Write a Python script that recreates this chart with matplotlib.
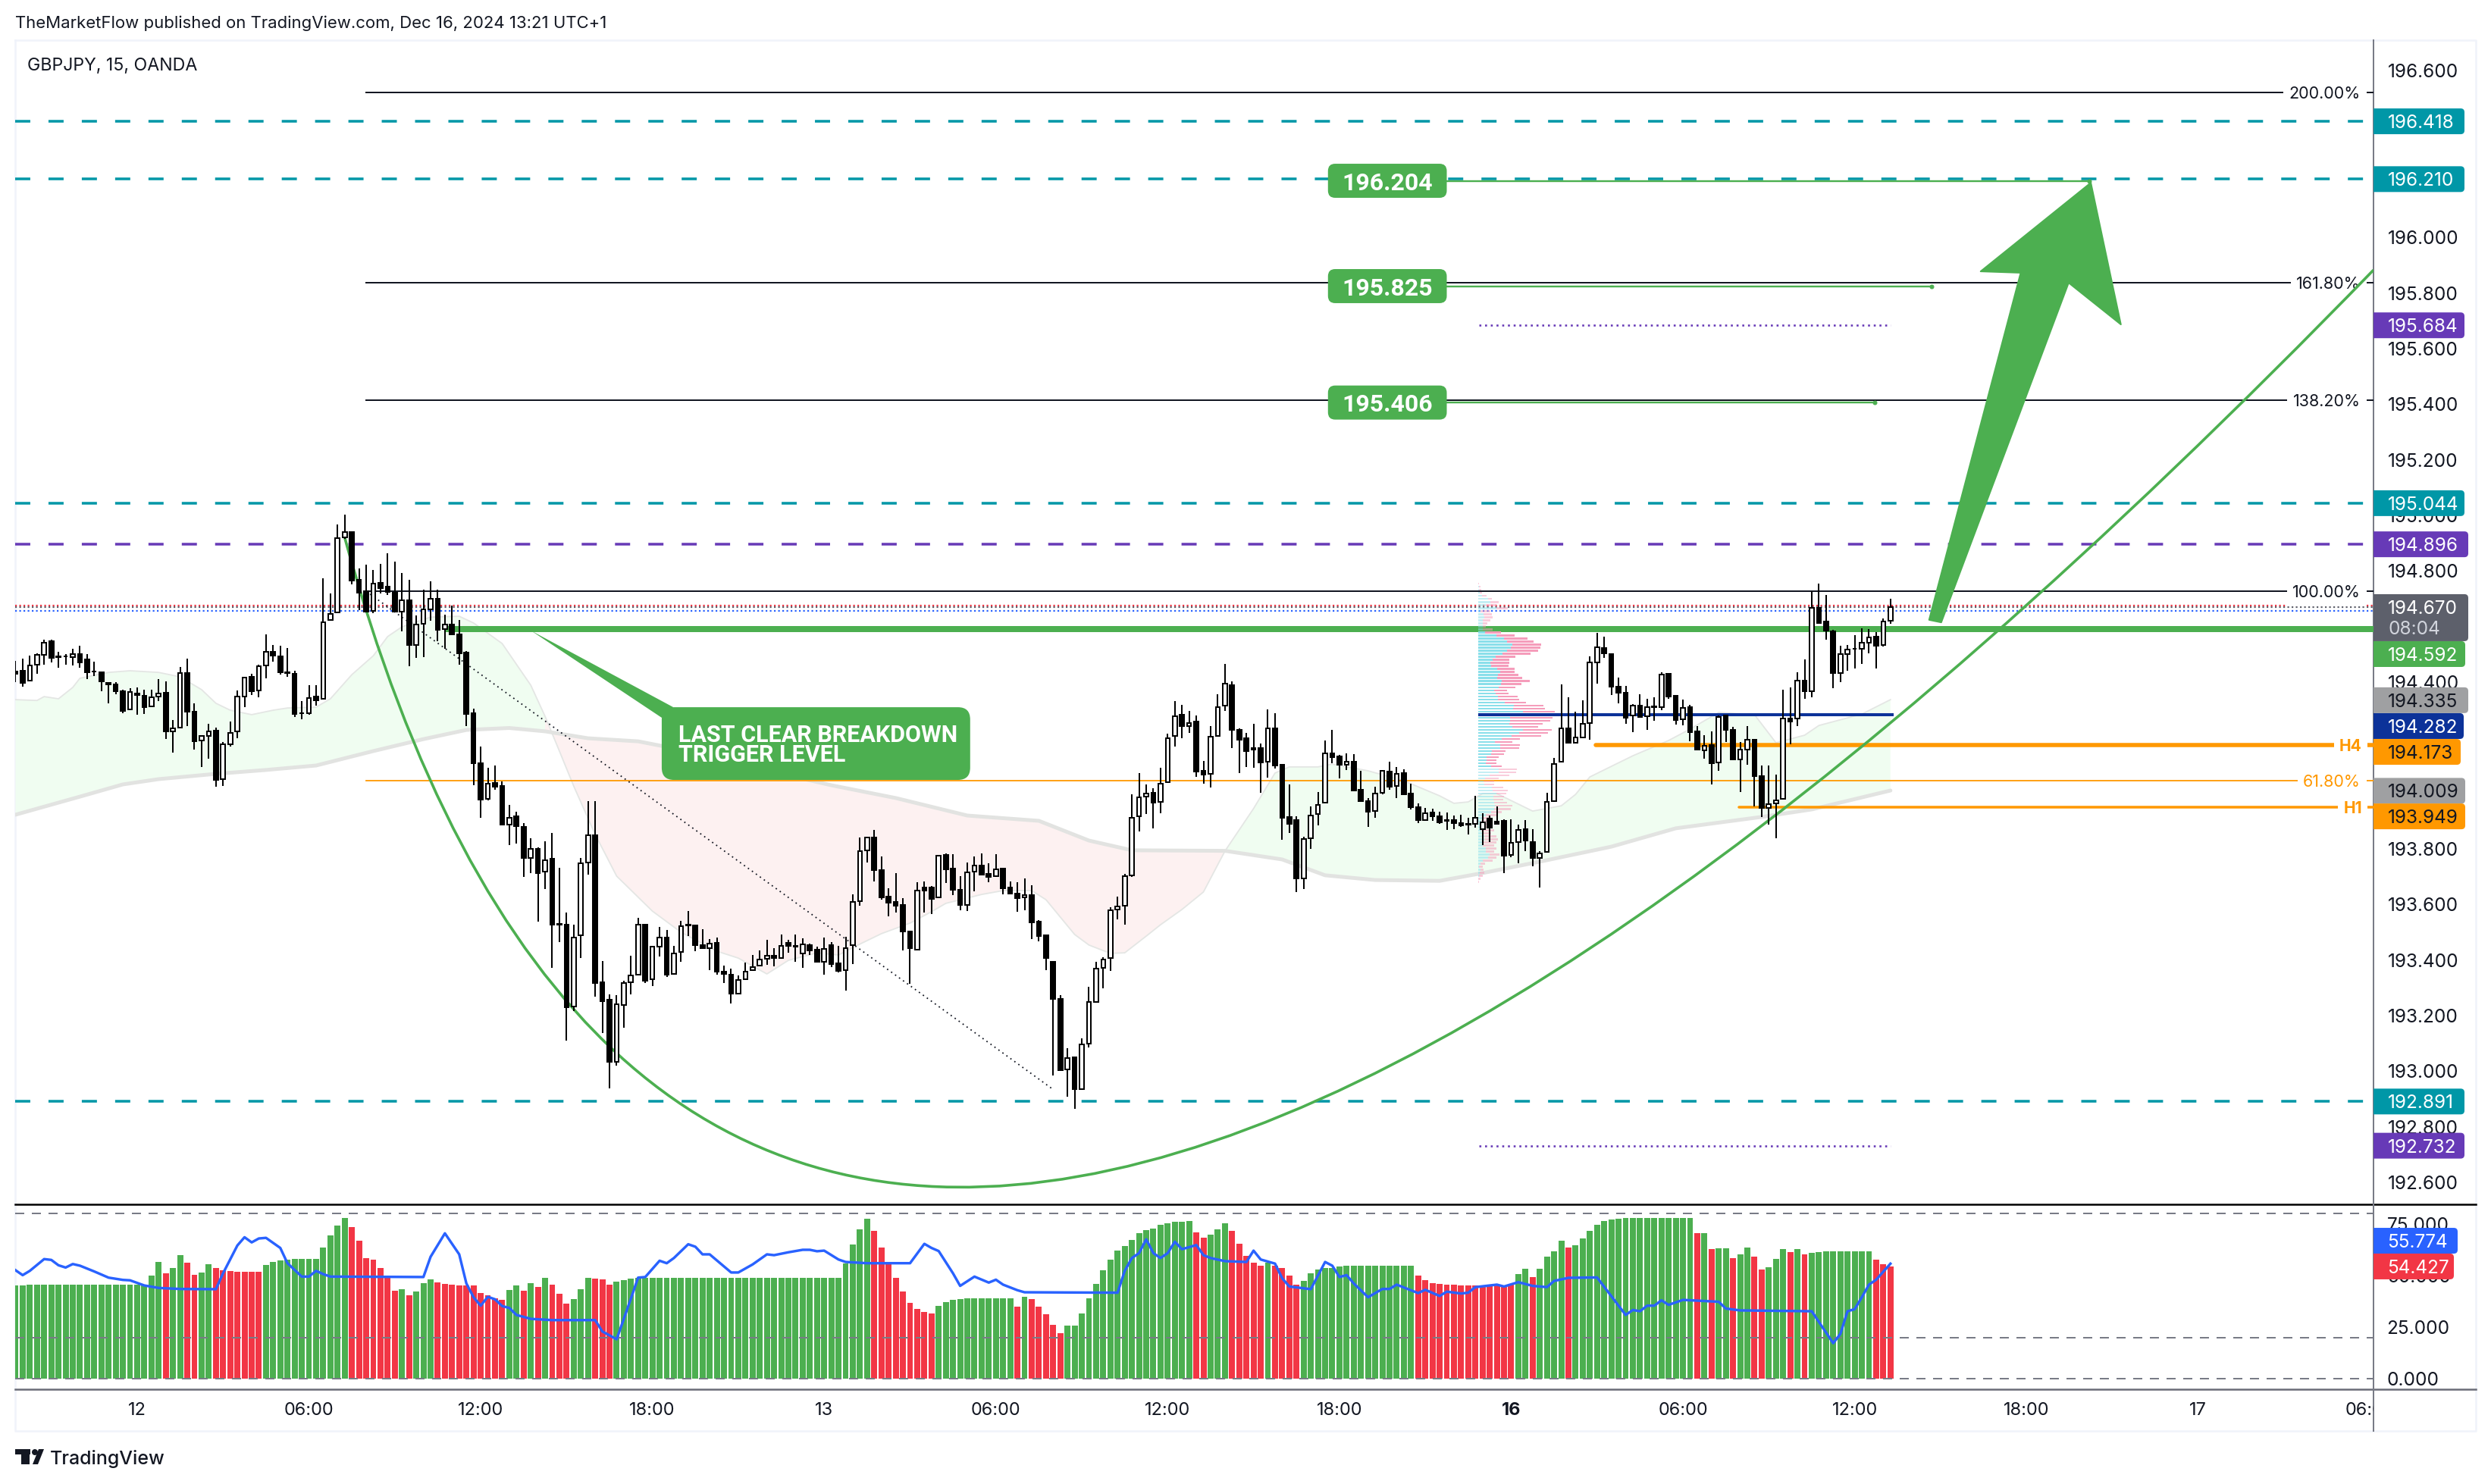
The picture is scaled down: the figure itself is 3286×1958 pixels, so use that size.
import numpy as np
import matplotlib
matplotlib.use('Agg')
import matplotlib.pyplot as plt
from matplotlib.patches import FancyBboxPatch, PathPatch, Polygon, Rectangle, Circle
from matplotlib.path import Path

plt.rcParams['font.family'] = ['Inter', 'DejaVu Sans']

# ── Candles (15 min bars, oldest first) ───────────────────────────────────────
highs = [
    194.477,194.484,194.495,194.505,194.553,194.553,194.509,194.502,194.520,194.531,
    194.501,194.475,194.435,194.400,194.400,194.373,194.377,194.380,194.373,194.373,
    194.411,194.403,194.265,194.455,194.484,194.325,194.206,194.249,194.236,194.184,
    194.258,194.370,194.418,194.429,194.462,194.571,194.534,194.530,194.523,194.440,
    194.332,194.389,194.389,194.773,194.718,194.966,195.003,194.940,194.809,194.822,
    194.803,194.825,194.865,194.835,194.793,194.768,194.641,194.732,194.763,194.732,
    194.643,194.676,194.624,194.512,194.305,194.169,194.092,194.100,194.043,193.958,
    193.934,193.894,193.838,193.805,193.828,193.858,193.731,193.570,193.526,193.767,
    193.973,193.973,193.397,193.276,193.273,193.326,193.416,193.551,193.530,193.447,
    193.519,193.507,193.451,193.541,193.577,193.524,193.510,193.475,193.482,193.380,
    193.370,193.345,193.391,193.417,193.435,193.472,193.442,193.491,193.474,193.491,
    193.477,193.459,193.447,193.480,193.464,193.450,193.484,193.636,193.841,193.843,
    193.868,193.774,193.657,193.712,193.624,193.503,193.680,193.684,193.666,193.777,
    193.785,193.781,193.702,193.750,193.773,193.784,193.748,193.781,193.731,193.682,
    193.680,193.694,193.668,193.545,193.488,193.393,193.273,193.084,193.054,193.118,
    193.303,193.395,193.411,193.589,193.627,193.711,193.996,194.072,194.033,194.018,
    194.091,194.214,194.331,194.318,194.296,194.280,194.116,194.241,194.356,194.465,
    194.403,194.234,194.217,194.250,194.179,194.302,194.288,194.102,194.032,193.916,
    193.843,193.953,194.004,194.189,194.227,194.138,194.145,194.141,194.080,193.984,
    194.025,194.085,194.113,194.094,194.086,194.034,193.965,193.947,193.944,193.933,
    193.931,193.920,193.923,193.912,193.991,193.929,193.921,193.954,193.906,193.906,
    193.886,193.905,193.872,193.791,194.001,194.127,194.393,194.345,194.295,194.334,
    194.492,194.577,194.563,194.502,194.416,194.386,194.322,194.356,194.340,194.345,
    194.436,194.431,194.350,194.338,194.318,194.243,194.209,194.222,194.280,194.280,
    194.239,194.184,194.243,194.194,194.100,194.100,194.066,194.372,194.381,194.436,
    194.481,194.727,194.754,194.713,194.589,194.531,194.533,194.568,194.595,194.591,
    194.580,194.629,194.700,
]
lows = [
    194.400,194.384,194.405,194.430,194.464,194.471,194.452,194.464,194.459,194.452,
    194.411,194.423,194.367,194.323,194.356,194.289,194.302,194.284,194.286,194.312,
    194.332,194.195,194.147,194.235,194.242,194.157,194.095,194.125,194.025,194.027,
    194.168,194.198,194.311,194.353,194.345,194.414,194.473,194.427,194.420,194.275,
    194.267,194.284,194.316,194.340,194.624,194.651,194.916,194.753,194.659,194.650,
    194.647,194.718,194.714,194.650,194.584,194.458,194.487,194.490,194.622,194.547,
    194.519,194.573,194.462,194.242,194.030,193.912,193.974,194.014,193.886,193.814,
    193.819,193.698,193.713,193.537,193.655,193.373,193.464,193.109,193.216,193.407,
    193.708,193.269,193.138,192.938,193.021,193.157,193.276,193.347,193.317,193.307,
    193.413,193.338,193.351,193.395,193.486,193.432,193.442,193.363,193.348,193.317,
    193.244,193.278,193.332,193.361,193.381,193.382,193.378,193.407,193.427,193.394,
    193.373,193.418,193.394,193.348,193.375,193.356,193.291,193.386,193.595,193.752,
    193.682,193.618,193.557,193.571,193.434,193.315,193.437,193.571,193.566,193.625,
    193.677,193.634,193.580,193.577,193.647,193.704,193.680,193.702,193.636,193.638,
    193.574,193.580,193.475,193.468,193.364,192.984,193.002,192.909,192.864,192.936,
    193.086,193.249,193.298,193.362,193.547,193.527,193.700,193.863,193.926,193.873,
    193.927,194.039,194.168,194.198,194.218,194.059,194.034,194.021,194.206,194.297,
    194.164,194.073,194.094,194.092,194.002,194.056,194.089,193.833,193.857,193.645,
    193.656,193.800,193.884,193.966,194.108,194.054,194.084,194.011,193.968,193.880,
    193.912,193.997,194.014,193.984,193.997,193.943,193.893,193.905,193.902,193.891,
    193.868,193.871,193.879,193.853,193.877,193.814,193.825,193.891,193.714,193.771,
    193.749,193.791,193.736,193.661,193.789,193.972,194.113,194.183,194.180,194.201,
    194.193,194.395,194.486,194.354,194.324,194.250,194.221,194.272,194.227,194.261,
    194.300,194.341,194.248,194.245,194.188,194.156,194.124,194.032,194.081,194.184,
    194.118,194.004,194.103,193.954,193.915,193.886,193.839,193.981,194.177,194.241,
    194.341,194.345,194.613,194.552,194.379,194.400,194.441,194.450,194.465,194.504,
    194.450,194.529,194.611,
]
opens = [
    194.438,194.440,194.405,194.462,194.497,194.547,194.493,194.492,194.489,194.501,
    194.481,194.439,194.435,194.398,194.392,194.367,194.302,194.358,194.351,194.312,
    194.347,194.361,194.222,194.236,194.432,194.295,194.190,194.206,194.225,194.051,
    194.177,194.223,194.348,194.418,194.370,194.460,194.508,194.492,194.436,194.429,
    194.289,194.287,194.347,194.340,194.624,194.651,194.920,194.939,194.767,194.727,
    194.657,194.756,194.745,194.721,194.655,194.695,194.534,194.611,194.663,194.701,
    194.590,194.608,194.572,194.507,194.287,194.108,193.979,194.036,194.026,193.887,
    193.917,193.880,193.768,193.799,193.719,193.764,193.529,193.526,193.232,193.489,
    193.752,193.848,193.320,193.257,193.034,193.238,193.321,193.347,193.526,193.332,
    193.448,193.482,193.351,193.430,193.526,193.524,193.453,193.443,193.462,193.358,
    193.348,193.278,193.332,193.363,193.381,193.405,193.416,193.407,193.462,193.450,
    193.423,193.453,193.436,193.393,193.453,193.387,193.364,193.454,193.611,193.794,
    193.840,193.725,193.627,193.608,193.597,193.502,193.437,193.660,193.660,193.625,
    193.777,193.728,193.652,193.598,193.718,193.739,193.709,193.702,193.728,193.660,
    193.638,193.625,193.635,193.537,193.488,193.393,193.259,193.007,193.049,192.936,
    193.099,193.249,193.372,193.407,193.582,193.595,193.705,193.917,193.988,194.002,
    193.968,194.039,194.206,194.282,194.242,194.257,194.080,194.070,194.206,194.315,
    194.388,194.228,194.197,194.164,194.162,194.114,194.235,194.102,193.914,193.903,
    193.694,193.838,193.925,193.966,194.145,194.132,194.103,194.115,194.012,193.971,
    193.936,194.001,194.079,194.027,194.072,193.998,193.949,193.905,193.930,193.916,
    193.903,193.903,193.894,193.891,193.890,193.871,193.908,193.899,193.900,193.777,
    193.825,193.872,193.824,193.768,193.789,193.972,194.113,194.234,194.183,194.201,
    194.252,194.472,194.523,194.502,194.384,194.361,194.280,194.316,194.277,194.314,
    194.309,194.430,194.350,194.266,194.309,194.222,194.154,194.175,194.111,194.279,
    194.227,194.123,194.158,194.194,194.063,193.948,193.965,193.981,194.268,194.268,
    194.406,194.366,194.668,194.618,194.584,194.432,194.502,194.521,194.520,194.543,
    194.565,194.533,194.621,
]
closes = [
    194.431,194.398,194.461,194.497,194.543,194.488,194.491,194.494,194.501,194.472,
    194.436,194.437,194.404,194.393,194.367,194.297,194.365,194.355,194.309,194.345,
    194.360,194.222,194.234,194.434,194.295,194.188,194.206,194.223,194.049,194.177,
    194.218,194.347,194.416,194.368,194.458,194.509,194.495,194.436,194.432,194.286,
    194.287,194.344,194.334,194.615,194.645,194.918,194.940,194.765,194.721,194.653,
    194.755,194.738,194.725,194.653,194.695,194.535,194.608,194.663,194.701,194.588,
    194.607,194.573,194.505,194.286,194.108,193.976,194.034,194.023,193.886,193.912,
    193.883,193.768,193.800,193.714,193.759,193.526,193.526,193.229,193.481,193.749,
    193.849,193.316,193.253,193.034,193.242,193.316,193.345,193.526,193.326,193.447,
    193.481,193.348,193.425,193.522,193.524,193.455,193.442,193.460,193.358,193.351,
    193.279,193.328,193.358,193.375,193.403,193.416,193.407,193.451,193.452,193.447,
    193.457,193.435,193.394,193.441,193.386,193.361,193.444,193.610,193.793,193.840,
    193.724,193.626,193.607,193.596,193.504,193.444,193.651,193.651,193.621,193.775,
    193.727,193.654,193.597,193.716,193.741,193.708,193.700,193.727,193.659,193.638,
    193.624,193.634,193.536,193.487,193.408,193.261,193.004,193.047,192.936,193.097,
    193.250,193.370,193.403,193.580,193.593,193.702,193.911,193.985,193.999,193.966,
    194.035,194.199,194.278,194.243,194.253,194.079,194.068,194.204,194.311,194.395,
    194.229,194.194,194.153,194.156,194.112,194.234,194.101,193.913,193.891,193.693,
    193.836,193.920,193.959,194.144,194.131,194.104,194.114,194.011,193.973,193.935,
    193.999,194.082,194.024,194.070,193.997,193.951,193.904,193.929,193.916,193.895,
    193.900,193.894,193.885,193.888,193.913,193.896,193.877,193.891,193.776,193.823,
    193.869,193.829,193.768,193.783,193.970,194.106,194.234,194.183,194.201,194.250,
    194.472,194.526,194.503,194.384,194.361,194.272,194.316,194.275,194.311,194.311,
    194.428,194.349,194.265,194.307,194.221,194.156,194.170,194.109,194.275,194.227,
    194.122,194.158,194.192,194.063,193.948,193.961,193.975,194.270,194.257,194.406,
    194.368,194.668,194.613,194.586,194.433,194.501,194.518,194.519,194.542,194.561,
    194.531,194.619,194.670,
]

# ── Cloud lines (bar index, price) ────────────────────────────────────────────
fast_x = [0,3,4,6,8,9,13,16,20,23,26,28,30,33,36,38,42,44,47,50,52,54,58,62,64,68,72,74,76,78,
          81,84,89,93,98,101,105,108,112,115,117,121,125,128,130,135,138,142,144,148,150,153,155,
          158,160,163,166,169,173,176,178,182,184,189,194,199,201,203,205,207,212,216,218,220,226,
          231,234,238,243,246,250,252,258,262]
fast_y = [194.337,194.334,194.348,194.340,194.381,194.414,194.435,194.441,194.435,194.419,194.373,
          194.324,194.299,194.283,194.299,194.307,194.310,194.340,194.427,194.495,194.564,194.599,
          194.634,194.637,194.613,194.539,194.389,194.277,194.152,194.026,193.852,193.702,193.576,
          193.500,193.432,193.407,193.350,193.399,193.426,193.418,193.445,193.495,193.533,193.574,
          193.604,193.636,193.650,193.650,193.617,193.492,193.454,193.424,193.426,193.486,193.527,
          193.582,193.645,193.792,193.945,194.073,194.095,194.095,194.105,194.081,194.045,193.991,
          193.964,193.969,193.999,193.999,193.936,193.955,193.996,194.059,194.135,194.190,194.231,
          194.291,194.283,194.182,194.209,194.244,194.285,194.337]
slow_x = [0,9,15,20,28,35,42,50,57,63,69,74,80,87,93,102,114,123,133,143,150,156,169,177,183,190,
          199,205,213,223,232,244,251,262]
slow_y = [193.923,193.988,194.032,194.051,194.070,194.084,194.100,194.152,194.195,194.228,194.235,
          194.223,194.198,194.187,194.157,194.100,194.029,193.983,193.920,193.901,193.830,193.795,
          193.793,193.762,193.705,193.688,193.685,193.713,193.754,193.808,193.874,193.915,193.942,
          194.010]

# ── Volume profile rows, top to bottom ────────────────────────────────────────
vp_up = [1,2,3,5,10,28,36,22,53,6,16,18,13,13,13,13,20,54,76,86,101,96,84,71,51,43,36,38,56,66,58,56,
         70,68,60,46,51,58,58,78,105,102,133,95,93,93,91,100,131,122,99,70,50,64,66,40,38,25,25,23,38,
         60,60,33,20,16,18,41,43,53,45,45,48,50,48,38,23,13,8,8,18,8,10,18,18,13,13,23,23,33,30,13,6,2,
         6,4,2,1,0]
vp_down = [2,4,5,7,15,13,24,31,35,30,24,25,23,13,10,30,48,54,70,78,85,87,92,84,59,49,55,52,52,41,61,74,
           82,60,50,40,39,58,63,62,88,95,93,125,127,120,99,77,86,84,87,53,50,59,54,40,37,35,29,30,31,54,
           52,59,40,32,30,33,45,30,30,28,36,51,48,31,30,25,30,28,25,40,28,35,40,40,35,30,25,30,23,30,14,
           11,10,14,11,5,2]
vp_top = 194.754
vp_bottom = 193.681

# ── Oscillator pane ───────────────────────────────────────────────────────────
hist_values = [45.2,45.3] + [45.6]*17 + [49.9,56.6,51.1,53.5,59.9,56.3,50.4,51.5,55.5,53.7,52.6,52.2,51.8,51.8,
    51.8,51.8,55.1,56.6,57.2,57.7,58.1,58.1,58.1,58.1,63.6,69.5,74.3,78.0,73.5,66.9,58.5,57.7,53.7,48.9,42.6,
    43.4,40.4,42.3,46.3,48.2,46.7,46.0,45.6,45.2,45.2,45.2,41.5,40.4,39.0,38.2,43.0,45.2,42.6,46.3,44.5,48.9,
    45.6,41.2,36.4,38.6,43.4,48.9,48.5,48.2,45.6,47.1,47.8,48.5] + [48.9]*29 + [55.9,65.1,72.4,77.6,71.7,63.6,
    55.5,48.9,42.3,36.8,33.8,32.4,31.6,35.3,37.1,38.2,38.6] + [39.0]*7 + [34.9,39.7,38.6,34.9,31.3,26.1,22.1,
    25.7,25.7,31.6,39.0,46.0,52.6,57.7,62.1,64.3,67.3,70.6,72.1,72.8,74.6,75.4,76.1,76.1,76.5,71.0,68.4,69.9,
    72.4,75.4,71.7,65.4,59.6,56.3,54.8,56.3,54.8,53.7,50.0,45.6,47.4,51.1,53.0,53.7,53.7,54.4] + [54.8]*10 + [
    50.0,47.8,46.3,46.0,45.6,45.6,45.2,45.2,45.2,45.2,45.6,45.6,45.2,45.6,50.7,53.3,49.3,53.3,59.2,61.8,66.9,
    63.6,64.7,68.0,71.7,74.6,76.5,77.2,77.6] + [78.0]*10 + [70.6,70.6,62.9,63.2,63.2,58.5,60.3,63.6,59.2,53.0,
    54.1,58.1,62.9,61.4,62.9,60.3,61.0,61.4] + [61.8]*7 + [57.7,55.5,54.4]
red_bars = [21,24,25,*range(28,35),*range(47,54),55,*range(59,69),71,73,75,76,77,81,82,83,*range(120,129),
            140,*range(142,147),165,166,*range(170,175),*range(176,180),*range(196,210),212,217,235,237,
            240,243,244,248,250,260,261,262]
osc_x = [0,1,2,4,5,6,7,8,9,11,13,15,16,18,20,23,28,29,31,32,33,34,35,37,38,40,41,42,43,44,57,58,60,62,63,64,
         65,66,67,68,69,70,72,75,81,82,84,85,86,87,88,90,91,92,94,95,96,97,100,101,103,105,106,108,110,111,
         112,113,115,116,119,125,127,128,129,131,132,134,136,137,138,140,141,154,155,156,157,158,159,160,161,
         162,163,165,166,167,169,172,173,174,176,177,178,181,183,184,185,186,187,189,191,192,193,196,197,199,
         200,202,203,204,207,208,210,212,214,215,217,221,225,226,227,228,229,230,231,233,238,239,241,251,254,
         255,256,257,258,259,260,262]
osc_y = [52.6,50.2,52.3,58.0,57.6,55.0,53.9,55.6,54.8,52.0,49.0,47.9,47.7,45.2,44.0,43.5,43.4,51.1,64.6,68.6,
         66.1,68.0,68.3,63.4,56.0,49.5,49.5,52.3,50.7,49.5,49.3,59.1,70.5,60.3,46.2,39.5,35.4,39.7,38.5,35.2,
         34.3,30.9,29.0,28.4,28.4,22.9,19.1,29.0,38.9,49.0,49.3,57.2,56.0,58.5,65.2,64.0,60.3,60.3,51.5,51.5,
         55.4,60.3,59.9,61.3,62.5,62.5,61.8,62.1,57.8,56.6,56.0,56.0,65.4,63.4,61.9,51.1,45.0,49.5,46.6,48.0,
         45.6,42.9,41.9,41.7,52.3,58.5,60.9,67.6,60.9,58.5,60.9,66.4,62.8,64.8,59.9,58.5,57.0,56.6,62.1,57.8,
         55.8,48.7,44.7,43.4,56.6,54.8,49.3,50.2,46.2,39.5,43.5,43.5,45.6,41.5,43.1,40.1,42.2,41.3,41.7,44.4,
         45.6,44.7,46.8,45.0,44.4,47.4,48.9,49.1,30.9,33.3,32.7,35.4,35.4,38.0,35.8,38.2,37.3,34.0,33.1,32.7,
         17.2,21.7,32.7,33.7,39.5,45.6,48.0,55.774]
osc_levels = [80, 20, 0]
osc_ticks = [75, 50, 25, 0]

# ── Levels and axis labels ────────────────────────────────────────────────────
price_ticks = [192.6,192.8,193.0,193.2,193.4,193.6,193.8,194.4,194.8,195.0,195.2,
               195.4,195.6,195.8,196.0,196.6]
teal_levels = [196.418, 196.210, 195.044, 192.891]
purple_level = 194.896
purple_dotted = [195.684, 192.732]
dotted_levels = [194.675, 194.670, 194.656]
dotted_colors = ['#F23645', '#5D606B', '#2962FF']
fib_levels = [196.522, 195.837, 195.414, 194.727]
fib_labels = ['200.00%', '161.80%', '138.20%', '100.00%']
fib_618 = 194.045
trigger_level = 194.592
h4_level = 194.173
h1_level = 193.949
poc_level = 194.282
targets = [196.204, 195.825, 195.406]
target_ends = [289.8, 267.7, 259.8]
time_ticks = [17, 41, 65, 89, 113, 137, 161, 185, 209, 233, 257, 281, 305, 329]
time_labels = ['12','06:00','12:00','18:00','13','06:00','12:00','18:00','16','06:00','12:00','18:00','17','06:00']

GREEN = '#4CAF50'
RED = '#F23645'
TEAL = '#0097A7'
PURPLE = '#673AB7'
ORANGE = '#FF9800'
NAVY = '#0C3299'
GRAY = '#9FA0A2'
SLATE = '#5D606B'
BLUE = '#2962FF'
INK = '#131722'

W, H = 3286, 1958
PX_PRICE = 366.7     # pixels per 1.0 of price
PX_BAR = 9.44        # pixels per bar
PX_OSC = 2.72        # pixels per oscillator unit


def add_axes(x0, y0, x1, y1):
    a = fig.add_axes([x0 / W, 1 - y1 / H, (x1 - x0) / W, (y1 - y0) / H])
    a.patch.set_alpha(0)
    a.set_xticks([])
    a.set_yticks([])
    for s in a.spines.values():
        s.set_visible(False)
    return a


fig = plt.figure(figsize=(W / 72, H / 72), dpi=72, facecolor='white')

xlim = (-0.05, 329.5)
ylim = (192.521, 196.710)
ax = add_axes(20, 53, 3131, 1589)
ax.set_xlim(*xlim)
ax.set_ylim(*ylim)
pax = add_axes(3131, 53, 3266, 1589)
pax.set_xlim(0, 135)
pax.set_ylim(*ylim)
osc = add_axes(20, 1589, 3131, 1833)
osc.set_xlim(*xlim)
osc.set_ylim(-5.15, 84.56)
oax = add_axes(3131, 1589, 3266, 1833)
oax.set_xlim(0, 135)
oax.set_ylim(-5.15, 84.56)
tax = add_axes(20, 1833, 3131, 1888)
tax.set_xlim(*xlim)
tax.set_ylim(0, 1)
page = add_axes(0, 0, W, H)
page.set_xlim(0, W)
page.set_ylim(H, 0)
page.set_zorder(-1)

# ── Frame and page text ───────────────────────────────────────────────────────
page.plot([20, 20, 3266, 3266, 20], [53, 1888, 1888, 53, 53], color='#F0F3FA', lw=2.5)
page.plot([20, 3266], [1589, 1589], color='black', lw=2.5)
page.plot([20, 3266], [1833, 1833], color='#6A6D78', lw=2.5)
page.plot([3131, 3131], [53, 1888], color='#787B86', lw=2)
page.text(20, 31, 'TheMarketFlow published on TradingView.com, Dec 16, 2024 13:21 UTC+1',
          fontsize=22.1, color=INK, va='center')
page.text(36, 87, 'GBPJPY, 15, OANDA', fontsize=23.2, color=INK, va='center')
page.add_patch(Rectangle((20, 1912), 20, 7, color=INK, lw=0))
page.add_patch(Rectangle((28, 1912), 11, 20, color=INK, lw=0))
page.add_patch(Circle((46, 1916), 4, color=INK, lw=0))
page.add_patch(Polygon([(43, 1932), (50, 1932), (58, 1912), (51, 1912)], color=INK, lw=0))
page.text(66, 1925, 'TradingView', fontsize=25, color=INK, va='center', fontweight='medium')

# ── Cloud ─────────────────────────────────────────────────────────────────────
fx, fy, sx, sy = map(np.array, (fast_x, fast_y, slow_x, slow_y))


def cloud_piece(lo, hi, color):
    m1 = (fx >= lo) & (fx <= hi)
    m2 = (sx >= lo) & (sx <= hi)
    ax.fill(np.r_[fx[m1], sx[m2][::-1]], np.r_[fy[m1], sy[m2][::-1]], color=color, lw=0, zorder=1)


cloud_piece(0, 74, '#F0FDF1')
cloud_piece(74, 169, '#FDF1F1')
cloud_piece(169, 262, '#F0FDF1')
ax.plot(fx, fy, color='#E4E6E4', lw=1.8, zorder=1.2)
ax.plot(sx, sy, color='#E2E3E1', lw=5, zorder=1.2, solid_capstyle='round')

# ── Levels ────────────────────────────────────────────────────────────────────
for lvl in teal_levels:
    ax.axhline(lvl, color=TEAL, lw=3.5, ls=(0, (5.7, 6.86)), dash_capstyle='butt', zorder=2)
ax.axhline(purple_level, color=PURPLE, lw=3.5, ls=(0, (5.7, 6.86)), dash_capstyle='butt', zorder=2)
for lvl, col in zip(dotted_levels, dotted_colors):
    ax.axhline(lvl, color=col, lw=2.2, ls=(0, (1, 1.5)), dash_capstyle='butt', zorder=2)
for lvl in purple_dotted:
    ax.plot([204.5, 262], [lvl, lvl], color=PURPLE, lw=2.6, ls=(0, (1, 1.9)), zorder=2)

for lvl, lab in zip(fib_levels, fib_labels):
    ax.plot([49, xlim[1]], [lvl, lvl], color=INK, lw=2, zorder=2)
    ax.text(327.7, lvl, lab, fontsize=21.5, color=INK, ha='right', va='center_baseline', zorder=2.2,
            bbox=dict(boxstyle='square,pad=0.35', fc='white', ec='none'))
ax.plot([49, xlim[1]], [fib_618, fib_618], color=ORANGE, lw=1.8, zorder=2)
ax.text(327.7, fib_618, '61.80%', fontsize=21.5, color=ORANGE, ha='right', va='center_baseline', zorder=2.2,
        bbox=dict(boxstyle='square,pad=0.35', fc='white', ec='none'))

ax.plot([60, xlim[1]], [trigger_level, trigger_level], color=GREEN, lw=8, zorder=2.4, solid_capstyle='butt')
ax.plot([204.4, 262.4], [poc_level, poc_level], color=NAVY, lw=4, zorder=2.6, solid_capstyle='butt')
ax.plot([220.8, xlim[1]], [h4_level, h4_level], color=ORANGE, lw=5.5, zorder=2.4, solid_capstyle='round')
ax.plot([240.8, xlim[1]], [h1_level, h1_level], color=ORANGE, lw=3.5, zorder=2.4, solid_capstyle='round')
for lvl, lab in [(h4_level, 'H4'), (h1_level, 'H1')]:
    ax.text(327.9, lvl, lab, fontsize=21, color=ORANGE, fontweight='bold', ha='right', va='center_baseline', zorder=7,
            bbox=dict(boxstyle='square,pad=0.35', fc='white', ec='none'))

# Fib trend line, dotted
ax.plot([49, 144.8], [194.727, 192.938], color=INK, lw=1.8, ls=(0, (1, 2.6)), zorder=2)

# Cup arc, drawn as one quadratic bezier
arc = Path([(46, 194.92), (100.4, 189.805), (329.5, 195.883)], [Path.MOVETO, Path.CURVE3, Path.CURVE3])
ax.add_patch(PathPatch(arc, fc='none', ec=GREEN, lw=3.6, zorder=3))

# ── Volume profile ────────────────────────────────────────────────────────────
vp_y = np.linspace(vp_top, vp_bottom, len(vp_up))
vp_u = np.array(vp_up) / 21.15
vp_d = np.array(vp_down) / 21.15
in_va = (vp_y < 194.585) & (vp_y > 194.09)
for mask, a in [(in_va, 1.0), (~in_va, 0.5)]:
    ax.barh(vp_y[mask], vp_u[mask], left=204.4, height=0.0066, color='#8ADFEA', alpha=a, lw=0, zorder=2.5)
    ax.barh(vp_y[mask], vp_d[mask], left=204.4 + vp_u[mask], height=0.0066, color='#F59DBB', alpha=a, lw=0, zorder=2.5)

# ── Candles ───────────────────────────────────────────────────────────────────
bars = np.arange(len(closes))
o, h, l, c = map(np.array, (opens, highs, lows, closes))
up = c >= o
ax.vlines(bars, l, h, color='black', lw=2, zorder=5)
ax.bar(bars, np.abs(c - o), bottom=np.minimum(o, c), width=0.6, color=np.where(up, 'white', 'black'),
       edgecolor='black', linewidth=2, zorder=6)

# ── Target labels and arrow ───────────────────────────────────────────────────
aspect = PX_BAR / PX_PRICE
for val, end in zip(targets, target_ends):
    ax.plot([200, end], [val, val], color=GREEN, lw=2.4, zorder=4)
    ax.plot([end], [val], 'o', color=GREEN, ms=5, zorder=4)
    ax.add_patch(FancyBboxPatch((184.4, val - 0.0627 + 0.0272), 14.6, 0.0711, mutation_aspect=aspect,
                                boxstyle='round,pad=1.0,rounding_size=1.0', fc=GREEN, ec='none', zorder=7))
    ax.text(191.7, val, f'{val:.3f}', fontsize=32, fontfamily=['Roboto', 'DejaVu Sans'], fontweight='bold',
            color='white', ha='center', va='center_baseline', zorder=8)

ax.add_patch(Polygon([(267.4, 194.624), (280.2, 195.873), (274.6, 195.878), (290, 196.197),
                      (294.2, 195.687), (286.9, 195.837), (269.1, 194.615)],
                     closed=True, fc=GREEN, ec=GREEN, lw=2, joinstyle='round', zorder=4))

# ── Callout ───────────────────────────────────────────────────────────────────
ax.add_patch(Polygon([(72.05, 194.585), (90.3, 194.272), (91.9, 194.31)], closed=True, fc=GREEN, ec='none', zorder=4))
ax.add_patch(FancyBboxPatch((92, 194.092), 39.7, 0.174, mutation_aspect=aspect,
                            boxstyle='round,pad=1.7,rounding_size=1.7', fc=GREEN, ec='none', zorder=4))
ax.text(92.6, 194.174, 'LAST CLEAR BREAKDOWN\nTRIGGER LEVEL', fontsize=30.5, fontfamily=['Roboto', 'DejaVu Sans'],
        fontweight='bold', color='white', va='center', linespacing=0.85, zorder=8)

# ── Price scale ───────────────────────────────────────────────────────────────
for t in price_ticks:
    pax.text(19, t, f'{t:.3f}', fontsize=24.4, color=INK, va='center_baseline', zorder=1)


def tag(a, y, height, right, color, px_per_unit, zorder=3):
    a.add_patch(FancyBboxPatch((-20, y - height / 2), right + 20, height, clip_on=True,
                               boxstyle='round,pad=0,rounding_size=5', mutation_aspect=1 / px_per_unit,
                               fc=color, ec='none', zorder=zorder))


tag_values = [196.418, 196.210, 195.684, 195.044, 194.896, 194.335, 194.009, 192.891, 192.732]
tag_colors = [TEAL, TEAL, PURPLE, TEAL, PURPLE, GRAY, GRAY, TEAL, PURPLE]
tag_text = ['white', 'white', 'white', 'white', 'white', INK, INK, 'white', 'white']
tag_right = [120, 120, 120, 120, 125, 125, 121, 120, 120]
for v, col, tc, r in zip(tag_values, tag_colors, tag_text, tag_right):
    tag(pax, v, 34 / PX_PRICE, r, col, PX_PRICE)
    pax.text(19, v, f'{v:.3f}', fontsize=24.4, color=tc, va='center_baseline', zorder=4)

shifted_values = [194.592, 194.282, 194.173, 193.949]
shifted_pos = [194.501, 194.242, 194.149, 193.917]
shifted_colors = [GREEN, NAVY, ORANGE, ORANGE]
shifted_text = ['white', 'white', INK, INK]
shifted_right = [121, 119, 115, 121]
for v, y, col, tc, r in zip(shifted_values, shifted_pos, shifted_colors, shifted_text, shifted_right):
    tag(pax, y, 34 / PX_PRICE, r, col, PX_PRICE)
    pax.text(19, y, f'{v:.3f}', fontsize=24.4, color=tc, va='center_baseline', zorder=4)

# last price tag has the bar countdown under it
tag(pax, 194.632, 62 / PX_PRICE, 125, SLATE, PX_PRICE)
pax.text(19, 194.670, '194.670', fontsize=24.4, color='white', va='center_baseline', zorder=4)
pax.text(19, 194.596, '08:04', fontsize=24.4, color='#D1D4DC', va='center_baseline', zorder=4)

# ── Oscillator ────────────────────────────────────────────────────────────────
for lvl in osc_levels:
    osc.axhline(lvl, color='#787B86', lw=2, ls=(0, (6, 5)), dash_capstyle='butt', zorder=3)
colors = [RED if i in red_bars else GREEN for i in range(len(hist_values))]
osc.bar(np.arange(len(hist_values)), hist_values, width=0.84, color=colors, lw=0, zorder=2)
osc.plot(osc_x, osc_y, color=BLUE, lw=3.4, zorder=4, solid_joinstyle='round')

for t in osc_ticks:
    oax.text(17.6, t, f'{t:.3f}', fontsize=24.4, color=INK, va='center_baseline', zorder=1)
tag(oax, 66.9, 34 / PX_OSC, 111, BLUE, PX_OSC)
oax.text(17.6, 66.9, '55.774', fontsize=24.4, color='white', va='center_baseline', zorder=4)
tag(oax, 54.427, 34 / PX_OSC, 106, RED, PX_OSC)
oax.text(17.6, 54.427, '54.427', fontsize=24.4, color='white', va='center_baseline', zorder=4)

# ── Time scale ────────────────────────────────────────────────────────────────
for t, lab in zip(time_ticks, time_labels):
    tax.text(t, 0.53, lab, fontsize=23.5, color=INK, ha='center', va='center_baseline', clip_on=True,
             fontweight='bold' if lab == '16' else 'normal')

fig.savefig('out.png', dpi=72)
